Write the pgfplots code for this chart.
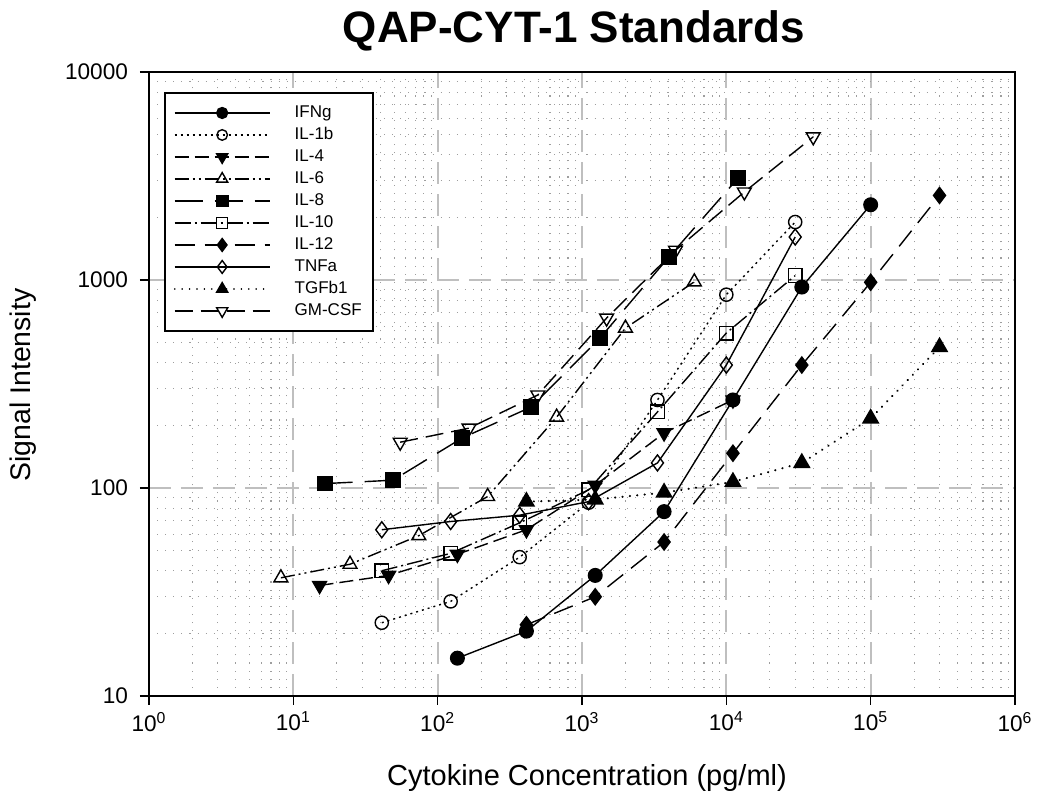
\documentclass[border=0pt]{standalone}
\usepackage{fontspec}
\setmainfont{Liberation Sans}
\usepackage{pgfplots}
\pgfplotsset{compat=1.18}
\begin{document}
\begin{tikzpicture}
\useasboundingbox (-74.5pt,-53pt) rectangle (444.5pt,348pt);
\begin{axis}[
  at={(0,0)}, anchor=south west,
  scale only axis, width=433pt, height=312pt,
  xmode=log, ymode=log,
  xmin=1, xmax=1e6, ymin=10, ymax=10000,
  xtick={1,10,100,1000,10000,100000,1000000},
  xticklabels={\mbox{10\textsuperscript{0}},\mbox{10\textsuperscript{1}},\mbox{10\textsuperscript{2}},\mbox{10\textsuperscript{3}},\mbox{10\textsuperscript{4}},\mbox{10\textsuperscript{5}},\mbox{10\textsuperscript{6}}},
  ytick={10,100,1000,10000},
  yticklabels={\mbox{10},\mbox{100},\mbox{1000},\mbox{10000}},
  minor xtick={2,3,4,5,6,7,8,9,20,30,40,50,60,70,80,90,200,300,400,500,600,700,800,900,2000,3000,4000,5000,6000,7000,8000,9000,20000,30000,40000,50000,60000,70000,80000,90000,200000,300000,400000,500000,600000,700000,800000,900000},
  minor ytick={20,30,40,50,60,70,80,90,200,300,400,500,600,700,800,900,2000,3000,4000,5000,6000,7000,8000,9000},
  grid=both,
  major grid style={black!25, line width=1.1pt, dash pattern=on 11pt off 5pt},
  minor grid style={black!38, line width=0.55pt, dash pattern=on 0.55pt off 3.5pt},
  axis line style={line width=1pt},
  tick align=outside, xtick pos=bottom, ytick pos=left,
  major tick length=4.5pt, minor tick length=0pt,
  tick style={black, line width=0.8pt},
  ticklabel style={font=\fontsize{11.3}{13}\selectfont},
  yticklabel style={xshift=-2.5pt},
  legend style={at={(0.0173,0.968)}, anchor=north west, draw=black, line width=1pt,
    font=\fontsize{8.5}{10}\selectfont, cells={anchor=west}, inner xsep=4.5pt, inner ysep=5pt, row sep=1pt,
    nodes={inner sep=1pt, text height=6.3pt, text depth=1.7pt}},
  legend image code/.code={
    \draw[mark repeat=2,mark phase=2,line width=0.7pt,#1,/tikz/every mark/.append style={scale=0.8}] plot coordinates {(0pt,0pt) (23.75pt,0pt) (47.5pt,0pt)};
    \path[draw=none] (0pt,0pt) -- (59pt,0pt);
  },
]
% IFNg
\addplot[black, line width=0.7pt, solid, mark=*, mark size=3.4pt, mark options={solid}] coordinates {(137,15.2) (412,20.5) (1235,38) (3704,77) (11111,265) (33333,925) (100000,2300)};
\addlegendentry{IFNg}
% IL-1b
\addplot[black, line width=0.7pt, dash pattern=on 1pt off 2pt, mark=o, mark size=3.3pt, mark options={solid, fill=white}] coordinates {(41,22.5) (123,28.5) (370,46.5) (1111,85) (3333,265) (10000,850) (30000,1900)};
\addlegendentry{IL-1b}
% IL-4
\addplot[black, line width=0.7pt, dash pattern=on 7pt off 3pt, mark=triangle*, mark size=4pt, mark options={solid, rotate=180}] coordinates {(15.2,34) (45.7,38) (137,48) (412,63) (1235,103) (3704,184) (11111,265)};
\addlegendentry{IL-4}
% IL-6
\addplot[black, line width=0.7pt, dash pattern=on 7pt off 2pt on 1pt off 2pt on 1pt off 2pt, mark=triangle, mark size=4pt, mark options={solid, fill=white}] coordinates {(8.2,37) (24.7,43) (74,59) (222,91) (667,219) (2000,587) (6000,980)};
\addlegendentry{IL-6}
% IL-8
\addplot[black, line width=0.7pt, dash pattern=on 14pt off 6pt, mark=square*, mark size=3.6pt, mark options={solid}] coordinates {(16.5,105) (49,109) (148,174) (444,245) (1333,526) (4000,1290) (12000,3080)};
\addlegendentry{IL-8}
% IL-10
\addplot[black, line width=0.7pt, dash pattern=on 8pt off 2pt on 1pt off 2pt, mark=square, mark size=3.4pt, mark options={solid, fill=white}] coordinates {(41,40) (123,48.5) (370,68) (1111,98) (3333,232) (10000,556) (30000,1050)};
\addlegendentry{IL-10}
% IL-12
\addplot[black, line width=0.7pt, dash pattern=on 10pt off 5pt, mark=diamond*, mark size=4pt, mark options={solid}] coordinates {(412,22) (1235,30) (3704,55) (11111,147) (33333,390) (100000,975) (300000,2550)};
\addlegendentry{IL-12}
% TNFa
\addplot[black, line width=0.7pt, solid, mark=diamond, mark size=4pt, mark options={solid, fill=white}] coordinates {(41,63) (123,69) (370,74) (1111,86) (3333,132) (10000,390) (30000,1610)};
\addlegendentry{TNFa}
% TGFb1
\addplot[black, line width=1.1pt, line cap=round, dash pattern=on 0.1pt off 3.6pt, mark=triangle*, mark size=4pt, mark options={solid}] coordinates {(412,86) (1235,88) (3704,95) (11111,107) (33333,132) (100000,216) (300000,476)};
\addlegendentry{TGFb1}
% GM-CSF
\addplot[black, line width=0.7pt, dash pattern=on 9pt off 4pt, mark=triangle, mark size=4pt, mark options={solid, fill=white, rotate=180}] coordinates {(55,166) (165,194) (494,280) (1481,656) (4444,1390) (13333,2650) (40000,4880)};
\addlegendentry{GM-CSF}
\end{axis}
\node[font=\fontsize{22}{26}\selectfont\bfseries] at (212.5pt,332.5pt) {QAP-CYT-1 Standards};
\node[font=\fontsize{14.5}{17}\selectfont] at (219pt,-41pt) {Cytokine Concentration (pg/ml)};
\node[font=\fontsize{14.2}{17}\selectfont, rotate=90] at (-63pt,155.5pt) {Signal Intensity};
\end{tikzpicture}
\end{document}
